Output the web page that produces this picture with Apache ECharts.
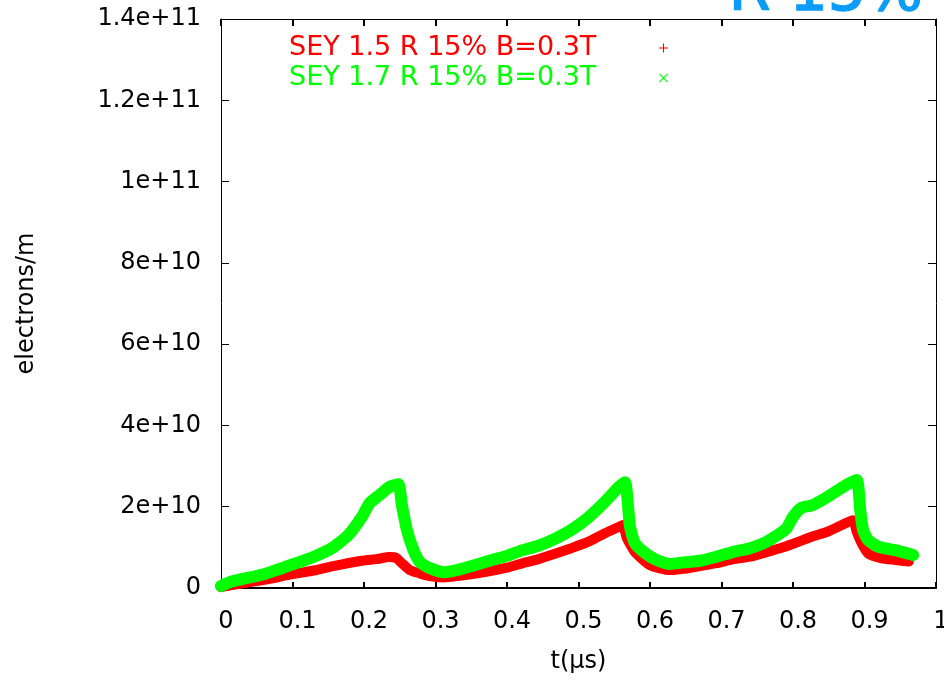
<!DOCTYPE html>
<html>
<head>
<meta charset="utf-8">
<script src="https://cdn.jsdelivr.net/npm/echarts@6/dist/echarts.min.js"></script>
<style>
html,body{margin:0;padding:0;background:#fff;}
#chart{width:944px;height:682px;}
</style>
</head>
<body>
<div id="chart"></div>
<script>
// ---- data (values in units of 1e10 electrons/m) ----
const seriesNames = ['SEY 1.5 R 15% B=0.3T', 'SEY 1.7 R 15% B=0.3T'];
const xTickLabels = ['0','0.1','0.2','0.3','0.4','0.5','0.6','0.7','0.8','0.9','1'];
const yTickLabels = ['0','2e+10','4e+10','6e+10','8e+10','1e+11','1.2e+11','1.4e+11'];

const redT = [0, 0.015, 0.06, 0.10, 0.13, 0.155, 0.197, 0.217, 0.236, 0.245, 0.253, 0.264, 0.278, 0.29, 0.311, 0.334, 0.358, 0.4, 0.42, 0.444, 0.467, 0.49, 0.514, 0.537, 0.556, 0.562, 0.567, 0.574, 0.58, 0.6, 0.628, 0.647, 0.67, 0.693, 0.717, 0.74, 0.763, 0.786, 0.805, 0.826, 0.849, 0.873, 0.884, 0.889, 0.896, 0.905, 0.924, 0.943, 0.962];
const redV = [0.02, 0.07, 0.2, 0.34, 0.43, 0.53, 0.67, 0.71, 0.76, 0.74, 0.61, 0.44, 0.36, 0.30, 0.26, 0.30, 0.36, 0.50, 0.60, 0.71, 0.84, 0.98, 1.14, 1.35, 1.5, 1.55, 1.26, 1.02, 0.86, 0.56, 0.44, 0.47, 0.54, 0.61, 0.71, 0.77, 0.88, 1.0, 1.12, 1.26, 1.39, 1.59, 1.67, 1.39, 1.1, 0.85, 0.73, 0.69, 0.65];

const greenT = [0, 0.015, 0.06, 0.10, 0.13, 0.155, 0.178, 0.197, 0.208, 0.222, 0.236, 0.248, 0.253, 0.260, 0.269, 0.278, 0.292, 0.313, 0.334, 0.358, 0.381, 0.4, 0.42, 0.444, 0.467, 0.49, 0.514, 0.537, 0.556, 0.565, 0.572, 0.579, 0.593, 0.607, 0.628, 0.647, 0.67, 0.693, 0.717, 0.74, 0.763, 0.79, 0.80, 0.812, 0.826, 0.849, 0.873, 0.889, 0.894, 0.898, 0.905, 0.919, 0.943, 0.968];
const greenV = [0.05, 0.16, 0.34, 0.58, 0.77, 0.98, 1.30, 1.75, 2.09, 2.29, 2.49, 2.55, 2.04, 1.43, 0.94, 0.64, 0.49, 0.39, 0.46, 0.58, 0.70, 0.79, 0.92, 1.04, 1.21, 1.43, 1.74, 2.12, 2.48, 2.6, 1.51, 1.1, 0.86, 0.71, 0.59, 0.63, 0.67, 0.77, 0.89, 0.98, 1.14, 1.45, 1.75, 1.98, 2.03, 2.25, 2.52, 2.66, 1.92, 1.43, 1.18, 1.02, 0.93, 0.81];

const pair = (t, v) => t.map((x, i) => [x, v[i]]);

const FONT = 'DejaVu Sans';
const plusIcon = 'path://M0,3.5L8,3.5L8,4.5L0,4.5Z M3.5,0L4.5,0L4.5,8L3.5,8Z';
const crossIcon = 'path://M0,0.7L0.7,0L8,7.3L7.3,8Z M7.3,0L8,0.7L0.7,8L0,7.3Z';

const chart = echarts.init(document.getElementById('chart'), null, {renderer: 'canvas'});
const axisText = {fontFamily: FONT, fontSize: 24, color: '#000'};

chart.setOption({
  animation: false,
  backgroundColor: '#fff',
  grid: {left: 221, right: 8, top: 19, bottom: 94, containLabel: false, outerBoundsMode: 'none'},
  graphic: [{
    type: 'text', left: 728, top: -36, silent: true,
    style: {text: 'R 15%', fontFamily: FONT, fontSize: 60, fill: '#0c9cf7', stroke: '#0c9cf7', lineWidth: 1.5}
  }],
  legend: {
    orient: 'vertical', left: 284, top: 28, align: 'right', itemGap: 0,
    itemWidth: 9, itemHeight: 9,
    formatter: name => (name === seriesNames[0] ? '{r|' : '{g|') + name + '}',
    textStyle: {
      fontFamily: FONT, fontSize: 27, lineHeight: 30,
      rich: {
        r: {fontFamily: FONT, fontSize: 27, lineHeight: 30, width: 365, align: 'left', color: '#ff0000'},
        g: {fontFamily: FONT, fontSize: 27, lineHeight: 30, width: 365, align: 'left', color: '#00ff00'}
      }
    },
    data: [
      {name: seriesNames[0], icon: plusIcon, itemStyle: {color: '#ff0000', borderWidth: 0}},
      {name: seriesNames[1], icon: crossIcon, itemStyle: {color: '#00ff00', borderWidth: 0}}
    ]
  },
  xAxis: [{
    type: 'value', min: 0, max: 1, interval: 0.1, position: 'bottom',
    name: 't(\u03bcs)', nameLocation: 'middle', nameGap: 62,
    nameTextStyle: {fontFamily: FONT, fontSize: 24, color: '#000'},
    axisLine: {onZero: false, lineStyle: {color: '#000', width: 2}},
    axisTick: {inside: true, length: 6, lineStyle: {color: '#000', width: 2}},
    axisLabel: Object.assign({margin: 22, padding: [0, 0, 0, 10], formatter: v => xTickLabels[Math.round(v * 10)]}, axisText),
    splitLine: {show: false}
  }, {
    type: 'value', min: 0, max: 1, interval: 0.1, position: 'top',
    axisLine: {onZero: false, lineStyle: {color: '#000', width: 1}},
    axisTick: {inside: true, length: 7, lineStyle: {color: '#000', width: 2}},
    axisLabel: {show: false}, splitLine: {show: false}
  }],
  yAxis: [{
    type: 'value', min: 0, max: 14, interval: 2, position: 'left',
    name: 'electrons/m', nameLocation: 'middle', nameGap: 182,
    nameTextStyle: {fontFamily: FONT, fontSize: 24, color: '#000'},
    axisLine: {onZero: false, lineStyle: {color: '#000', width: 1}},
    axisTick: {inside: true, length: 8, lineStyle: {color: '#000', width: 1}},
    axisLabel: Object.assign({margin: 20, formatter: v => yTickLabels[Math.round(v / 2)]}, axisText),
    splitLine: {show: false}
  }, {
    type: 'value', min: 0, max: 14, interval: 2, position: 'right',
    axisLine: {onZero: false, lineStyle: {color: '#000', width: 1}},
    axisTick: {inside: true, length: 8, lineStyle: {color: '#000', width: 1}},
    axisLabel: {show: false}, splitLine: {show: false}
  }],
  series: [{
    name: seriesNames[0], type: 'line', xAxisIndex: 0, yAxisIndex: 0,
    data: pair(redT, redV), showSymbol: false, symbol: 'none', smooth: 0.2,
    color: '#ff0000',
    lineStyle: {color: '#ff0000', width: 10, cap: 'round', join: 'round'},
    z: 2
  }, {
    name: seriesNames[1], type: 'line', xAxisIndex: 0, yAxisIndex: 0,
    data: pair(greenT, greenV), showSymbol: false, symbol: 'none', smooth: 0.2,
    color: '#00ff00',
    lineStyle: {color: '#00ff00', width: 12, cap: 'round', join: 'round'},
    z: 3
  }]
});
</script>
</body>
</html>
